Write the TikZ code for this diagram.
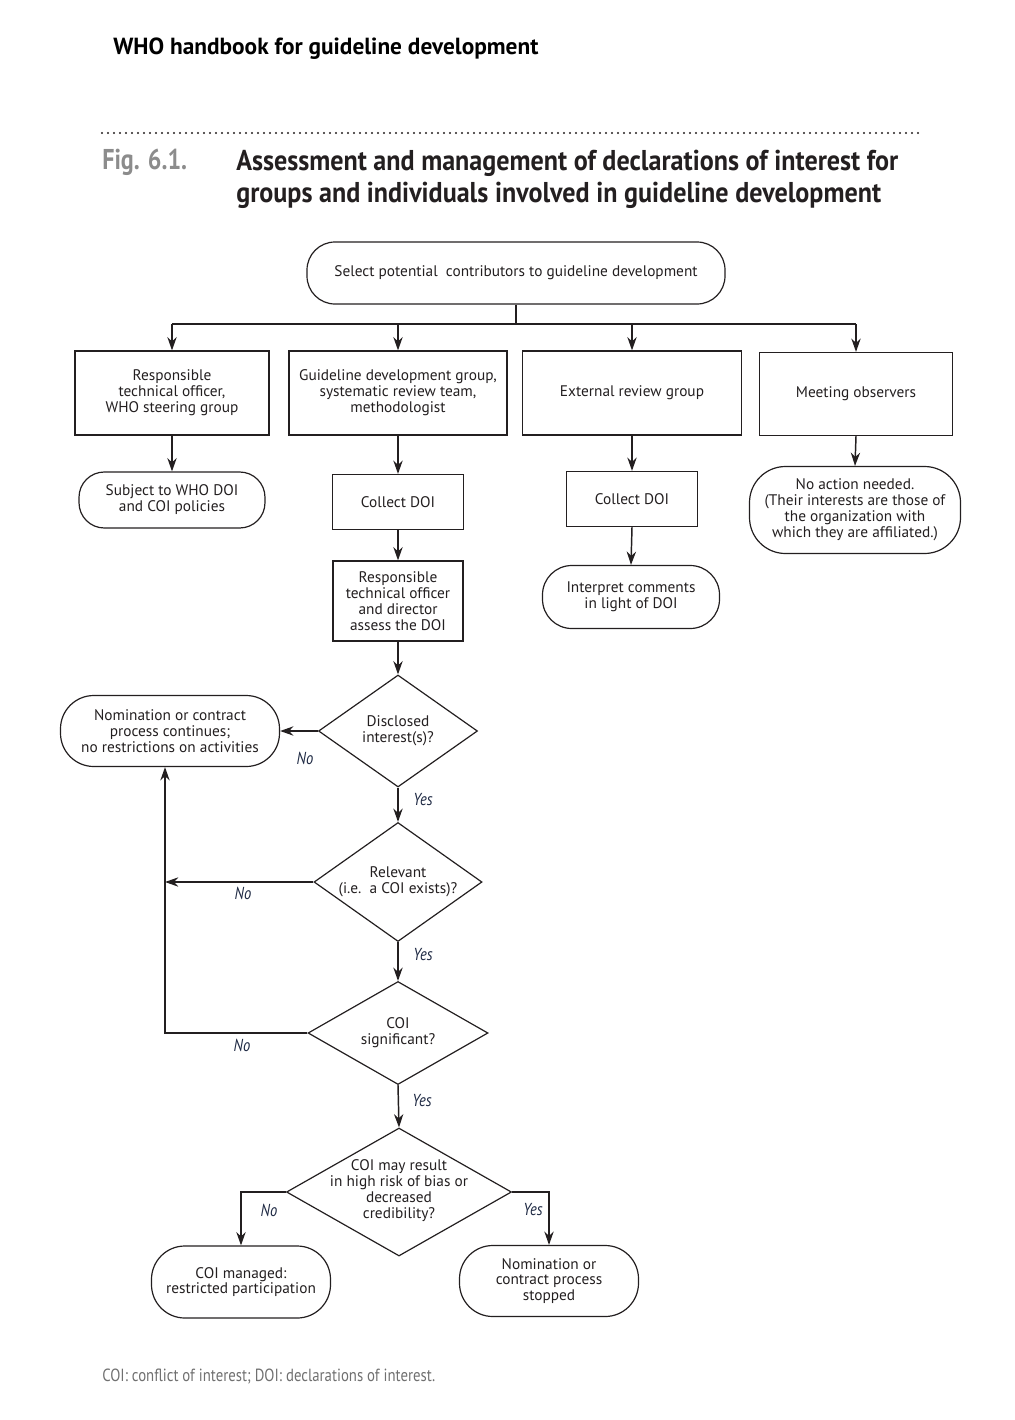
\documentclass[tikz,border=0pt]{standalone}
\usepackage{fontspec}
\setmainfont{PT Sans}
\newfontfamily\condfont[FakeStretch=0.84]{PT Sans}
\newfontfamily\titlefont[FakeStretch=0.91]{PT Sans}
\usetikzlibrary{shapes.geometric,arrows.meta}
\definecolor{inkc}{HTML}{231F20}
\definecolor{figgray}{HTML}{8C8C8C}
\definecolor{labc}{HTML}{1F2A44}
\begin{document}
\begin{tikzpicture}[x=0.75pt,y=-0.75pt,
  wh/.style 2 args={minimum width={#1*0.75pt}, minimum height={#2*0.75pt}},
  base/.style={draw=inkc, line width=0.9pt, align=center, inner sep=0pt, text=inkc,
    font=\fontsize{11.5}{11.9}\selectfont},
  rbox/.style={base, rectangle},
  stad/.style={base, rectangle, rounded corners=#1},
  dia/.style={draw=inkc, line width=0.9pt, diamond, inner sep=0pt, aspect=1},
  dtext/.style={align=center, text=inkc, font=\fontsize{11.5}{11.9}\selectfont, inner sep=0pt},
  arr/.style={draw=inkc, line width=1.1pt, -{Stealth[length=10pt,width=7pt]}},
  ln/.style={draw=inkc, line width=1.1pt},
  lab/.style={text=labc, font=\condfont\itshape\fontsize{13}{14}\selectfont, inner sep=0pt}
]
\useasboundingbox (0,0) rectangle (1014,1420);

% header
\node[anchor=west, text=black, font=\bfseries\fontsize{17.5}{19}\selectfont, inner sep=0pt] (hdr) at (113,49) {WHO handbook for guideline development};
\draw[line width=1.8pt, dash pattern=on 0pt off 4.5pt, line cap=round, draw=inkc] (102,133) -- (920,133);
\node[anchor=west, text=figgray, font=\condfont\bfseries\fontsize{21.5}{24}\selectfont, inner sep=0pt] (fig) at (102,162) {Fig. 6.1.};
\node[anchor=north west, align=left, text=inkc, font=\titlefont\bfseries\fontsize{21.5}{24}\selectfont, inner sep=0pt] (title) at (236,150) {Assessment and management of declarations of interest for\\groups and individuals involved in guideline development};

% top node
\node[stad=21pt, wh={418}{62}] (start) at (516,273) {Select potential\ \ contributors to guideline development};
\coordinate (bus) at (516,324);

% column boxes
\node[rbox, wh={194}{84}] (b1) at (172,393) {Responsible\\technical officer,\\WHO steering group};
\node[rbox, wh={218}{84}] (b2) at (398,393) {Guideline development group,\\systematic review team,\\methodologist};
\node[rbox, wh={219}{84}] (b3) at (632,393) {External review group};
\node[rbox, wh={193}{83}] (b4) at (856,394) {Meeting observers};

\node[stad=19pt, wh={186}{56}] (subj) at (172,500) {Subject to WHO DOI\\and COI policies};
\node[rbox, wh={131}{55}] (c2) at (398,502) {Collect DOI};
\node[rbox, wh={130}{80}] (rto) at (398,601) {Responsible\\technical officer\\and director\\assess the DOI};
\node[rbox, wh={131}{55}] (c3) at (632,499) {Collect DOI};
\node[stad=22pt, wh={177}{63}] (interp) at (631,597) {Interpret comments\\in light of DOI};
\node[stad=27pt, wh={211}{87}] (noact) at (855,510) {No action needed.\\(Their interests are those of\\the organization with\\which they are affiliated.)};

% diamonds
\node[dia, wh={159}{112}] (d1) at (398,731) {};
\node[dtext] at (d1) {Disclosed\\interest(s)?};
\node[dia, wh={168}{119}] (d2) at (398,882) {};
\node[dtext] at (d2) {Relevant\\(i.e.\ \ a COI exists)?};
\node[dia, wh={180}{103}] (d3) at (398,1033) {};
\node[dtext] at (d3) {COI\\significant?};
\node[dia, wh={225}{128}] (d4) at (399,1192) {};
\node[dtext] at ([yshift=1pt]d4) {COI may result\\in high risk of bias or\\decreased\\credibility?};

\node[stad=25pt, wh={219}{71}] (nom) at (170,731) {Nomination or contract\\process continues;\\no restrictions on activities};
\node[stad=25pt, wh={179}{72}] (man) at (241,1282) {COI managed:\\restricted participation};
\node[stad=25pt, wh={179}{71}] (stop) at (549,1281) {Nomination or\\contract process\\stopped};

% top distribution
\draw[ln] (start.south) -- (bus);
\draw[ln] (bus -| b1.north) -- (bus -| b4.north);
\foreach \b in {b1,b2,b3,b4} \draw[arr] (bus -| \b.north) -- (\b.north);

\draw[arr] (b1.south) -- (subj.north);
\draw[arr] (b2.south) -- (c2.north);
\draw[arr] (c2.south) -- (rto.north);
\draw[arr] (rto.south) -- (d1.north);
\draw[arr] (b3.south) -- (c3.north);
\draw[arr] (c3.south) -- (interp.north);
\draw[arr] (b4.south) -- (noact.north);

% decision flow
\coordinate (j1) at (165,882);
\draw[arr] (d1.west) -- (nom.east);
\draw[arr] (d1.south) -- (d2.north);
\draw[arr] (d2.south) -- (d3.north);
\draw[arr] (d3.south) -- (d4.north);
\draw[arr] (d2.west) -- (j1);
\draw[arr] (d3.west) -| (nom.south -| j1);
\draw[arr] (d4.west) -| (man.north);
\draw[arr] (d4.east) -| (stop.north);

% labels
\node[lab] (l1) at (305,758) {No};
\node[lab] (l2) at (423,800) {Yes};
\node[lab] (l3) at (243,893) {No};
\node[lab] (l4) at (423,955) {Yes};
\node[lab] (l5) at (242,1045) {No};
\node[lab] (l6) at (422,1101) {Yes};
\node[lab] (l7) at (269,1210) {No};
\node[lab] (l8) at (533,1210) {Yes};

% footer
\node[anchor=west, text=figgray!80!black, font=\condfont\fontsize{13.2}{16}\selectfont, inner sep=0pt] (foot) at (102,1377) {COI: conflict of interest; DOI: declarations of interest.};
\end{tikzpicture}
\end{document}
